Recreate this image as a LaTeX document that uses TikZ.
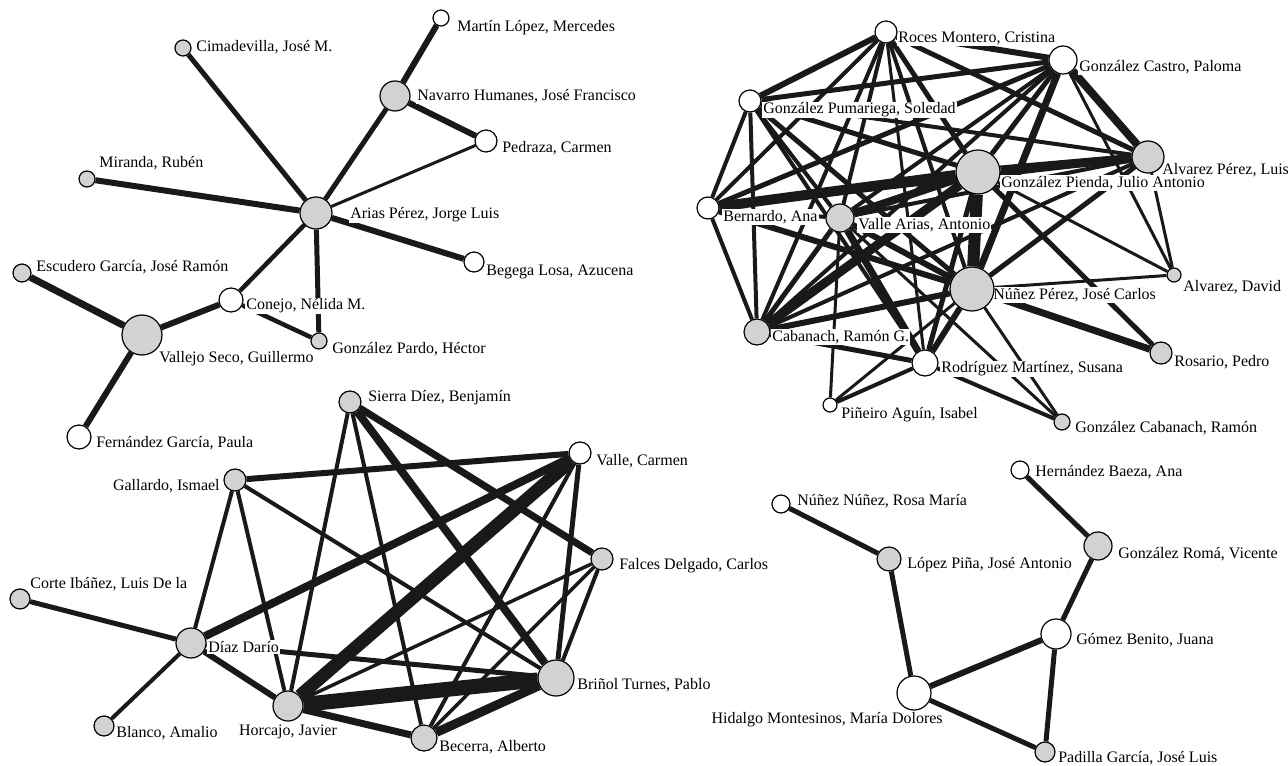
\documentclass[tikz,border=0pt]{standalone}
\usepackage{fontspec}
\setmainfont{Liberation Serif}
\pgfdeclarelayer{edges}
\pgfdeclarelayer{labels}
\pgfsetlayers{edges,labels,main}
\definecolor{nodegray}{RGB}{208,210,211}
\tikzset{
  pn/.style={circle,draw=black,line width=0.9pt,inner sep=0pt,minimum size=#1*1.5pt},
  gn/.style={pn=#1,fill=nodegray},
  wn/.style={pn=#1,fill=white},
  lab/.style={fill=white,inner sep=0.8pt,font=\fontsize{12}{13}\selectfont,anchor=west},
  e/.style={line width=#1*0.75pt,draw=black!90},
}
\begin{document}
\begin{tikzpicture}[x=0.75pt,y=-0.75pt]
\useasboundingbox (0,0) rectangle (1288,766);
% ---------- top-left cluster ----------
\node[wn=8]  (mar) at (441,18) {};
\node[gn=8]  (cim) at (183,48) {};
\node[gn=15] (nav) at (395,96) {};
\node[wn=11] (ped) at (486,141) {};
\node[gn=8]  (mir) at (87,179) {};
\node[gn=16] (ari) at (316,213) {};
\node[wn=10] (beg) at (474,262) {};
\node[gn=9]  (esc) at (22,273) {};
\node[wn=12] (con) at (231,300) {};
\node[gn=20] (vse) at (142,335) {};
\node[gn=8]  (gpa) at (319,341) {};
\node[wn=12] (fer) at (79,437) {};
% ---------- bottom-left cluster ----------
\node[gn=11] (sie) at (350,402) {};
\node[wn=11] (vca) at (580,453) {};
\node[gn=11] (gal) at (235,480) {};
\node[gn=11] (fal) at (602,559) {};
\node[gn=10] (cor) at (20,599) {};
\node[gn=15] (dia) at (191,643) {};
\node[gn=18] (bri) at (556,678) {};
\node[gn=15] (hor) at (288,706) {};
\node[gn=10] (bla) at (104,726) {};
\node[gn=13] (bec) at (424,738) {};
% ---------- top-right cluster ----------
\node[wn=11] (roc) at (886,32) {};
\node[wn=14] (gca) at (1063,60) {};
\node[wn=11] (gpu) at (750,101) {};
\node[gn=16] (alp) at (1148,157) {};
\node[gn=22] (gpi) at (978,172) {};
\node[wn=11] (ber) at (708,208) {};
\node[gn=14] (var) at (840,218) {};
\node[gn=7]  (ald) at (1174,275) {};
\node[gn=22] (nup) at (972,289) {};
\node[gn=13] (cab) at (757,332) {};
\node[wn=13] (rod) at (925,363) {};
\node[gn=11] (ros) at (1161,353) {};
\node[wn=7]  (pin) at (830,405) {};
\node[gn=8]  (gcr) at (1062,422) {};
% ---------- bottom-right cluster ----------
\node[wn=9]  (her) at (1020,470) {};
\node[wn=9]  (nnu) at (781,504) {};
\node[gn=14] (rom) at (1098,546) {};
\node[gn=12] (lop) at (889,559) {};
\node[wn=15] (gom) at (1056,634) {};
\node[wn=17] (hid) at (914,693) {};
\node[gn=10] (pad) at (1045,752) {};

\begin{pgfonlayer}{labels}
\node[lab] (lmar) at (456,28) {Martín López, Mercedes};
\node[lab] (lcim) at (195,47) {Cimadevilla, José M.};
\node[lab] (lnav) at (416,96) {Navarro Humanes, José Francisco};
\node[lab] (lped) at (501,148) {Pedraza, Carmen};
\node[lab] (lmir) at (98,163) {Miranda, Rubén};
\node[lab] (lari) at (349,215) {Arias Pérez, Jorge Luis};
\node[lab] (lbeg) at (485,272) {Begega Losa, Azucena};
\node[lab] (lesc) at (35,267) {Escudero García, José Ramón};
\node[lab] (lcon) at (245,306) {Conejo, Nélida M.};
\node[lab] (lvse) at (158,359) {Vallejo Seco, Guillermo};
\node[lab] (lgpa) at (331,349) {González Pardo, Héctor};
\node[lab] (lfer) at (95,443) {Fernández García, Paula};
\node[lab] (lsie) at (367,398) {Sierra Díez, Benjamín};
\node[lab] (lvca) at (595,461) {Valle, Carmen};
\node[lab,anchor=east] (lgal) at (221,486) {Gallardo, Ismael};
\node[lab] (lfal) at (618,566) {Falces Delgado, Carlos};
\node[lab] (lcor) at (29,584) {Corte Ibáñez, Luis De la};
\node[lab] (ldia) at (207,647) {Díaz Darío};
\node[lab] (lbri) at (576,685) {Briñol Turnes, Pablo};
\node[lab,anchor=center] (lhor) at (288,732) {Horcajo, Javier};
\node[lab] (lbla) at (115,733) {Blanco, Amalio};
\node[lab] (lbec) at (438,747) {Becerra, Alberto};
\node[lab] (lroc) at (897,38) {Roces Montero, Cristina};
\node[lab] (lgca) at (1078,67) {González Castro, Paloma};
\node[lab] (lgpu) at (762,110) {González Pumariega, Soledad};
\node[lab] (lalp) at (1161,170) {Alvarez Pérez, Luis};
\node[lab] (lgpi) at (1000,183) {González Pienda, Julio Antonio};
\node[lab] (lber) at (722,217) {Bernardo, Ana};
\node[lab] (lvar) at (857,225) {Valle Arias, Antonio};
\node[lab] (lald) at (1182,287) {Alvarez, David};
\node[lab] (lnup) at (992,295) {Núñez Pérez, José Carlos};
\node[lab] (lcab) at (771,337) {Cabanach, Ramón G.};
\node[lab] (lrod) at (940,369) {Rodríguez Martínez, Susana};
\node[lab] (lros) at (1173,362) {Rosario, Pedro};
\node[lab] (lpin) at (840,415) {Piñeiro Aguín, Isabel};
\node[lab] (lgcr) at (1074,428) {González Cabanach, Ramón};
\node[lab] (lher) at (1034,472) {Hernández Baeza, Ana};
\node[lab] (lnnu) at (796,501) {Núñez Núñez, Rosa María};
\node[lab] (lrom) at (1117,554) {González Romá, Vicente};
\node[lab] (llop) at (906,565) {López Piña, José Antonio};
\node[lab] (lgom) at (1075,640) {Gómez Benito, Juana};
\node[lab,anchor=east] (lhid) at (944,720) {Hidalgo Montesinos, María Dolores};
\node[lab] (lpad) at (1057,758) {Padilla García, José Luis};
\end{pgfonlayer}

\begin{pgfonlayer}{edges}
% top-left
\draw[e=6] (mar) -- (nav);
\draw[e=6] (nav) -- (ped);
\draw[e=5] (nav) -- (ari);
\draw[e=3] (ped) -- (ari);
\draw[e=5] (cim) -- (ari);
\draw[e=6] (mir) -- (ari);
\draw[e=6] (ari) -- (beg);
\draw[e=4.5] (ari) -- (con);
\draw[e=5] (ari) -- (gpa);
\draw[e=4.5] (con) -- (gpa);
\draw[e=6] (con) -- (vse);
\draw[e=7] (esc) -- (vse);
\draw[e=6] (vse) -- (fer);
% bottom-left
\draw[e=4] (sie) -- (hor);
\draw[e=4] (sie) -- (bec);
\draw[e=8] (sie) -- (bri);
\draw[e=7] (sie) -- (fal);
\draw[e=6] (vca) -- (gal);
\draw[e=8] (vca) -- (dia);
\draw[e=13] (vca) -- (hor);
\draw[e=4] (vca) -- (bec);
\draw[e=5] (vca) -- (bri);
\draw[e=4] (gal) -- (dia);
\draw[e=4] (gal) -- (hor);
\draw[e=4] (gal) -- (bri);
\draw[e=3.5] (fal) -- (hor);
\draw[e=3.5] (fal) -- (bec);
\draw[e=4] (fal) -- (bri);
\draw[e=5] (cor) -- (dia);
\draw[e=4] (dia) -- (bla);
\draw[e=6] (dia) -- (hor);
\draw[e=5] (dia) -- (bri);
\draw[e=15] (hor) -- (bri);
\draw[e=7] (hor) -- (bec);
\draw[e=9] (bec) -- (bri);
% top-right
\draw[e=6] (roc) -- (gpu);
\draw[e=6] (roc) -- (gca);
\draw[e=5] (roc) -- (alp);
\draw[e=5] (roc) -- (gpi);
\draw[e=4] (roc) -- (nup);
\draw[e=4] (roc) -- (var);
\draw[e=4] (roc) -- (ber);
\draw[e=4] (roc) -- (cab);
\draw[e=3] (roc) -- (rod);
\draw[e=5] (gpu) -- (gca);
\draw[e=4] (gpu) -- (ber);
\draw[e=4] (gpu) -- (cab);
\draw[e=5] (gpu) -- (gpi);
\draw[e=4] (gpu) -- (alp);
\draw[e=5] (gpu) -- (nup);
\draw[e=4] (gpu) -- (var);
\draw[e=4] (gpu) -- (rod);
\draw[e=8] (gca) -- (alp);
\draw[e=5] (gca) -- (gpi);
\draw[e=7] (gca) -- (nup);
\draw[e=5] (gca) -- (ber);
\draw[e=4] (gca) -- (var);
\draw[e=4] (gca) -- (cab);
\draw[e=3] (gca) -- (ald);
\draw[e=9] (alp) -- (gpi);
\draw[e=5] (alp) -- (ber);
\draw[e=5] (alp) -- (nup);
\draw[e=3] (alp) -- (ald);
\draw[e=4] (alp) -- (var);
\draw[e=4] (alp) -- (cab);
\draw[e=10] (gpi) -- (ber);
\draw[e=8] (gpi) -- (var);
\draw[e=12] (gpi) -- (nup);
\draw[e=9] (gpi) -- (cab);
\draw[e=5] (gpi) -- (rod);
\draw[e=5] (gpi) -- (ros);
\draw[e=3] (gpi) -- (ald);
\draw[e=6] (nup) -- (var);
\draw[e=6] (nup) -- (ber);
\draw[e=6] (nup) -- (cab);
\draw[e=6] (nup) -- (rod);
\draw[e=7] (nup) -- (ros);
\draw[e=3] (nup) -- (gcr);
\draw[e=3] (nup) -- (ald);
\draw[e=3] (nup) -- (pin);
\draw[e=4] (var) -- (ber);
\draw[e=5] (var) -- (cab);
\draw[e=7] (var) -- (rod);
\draw[e=3] (var) -- (pin);
\draw[e=3] (var) -- (gcr);
\draw[e=4] (ber) -- (cab);
\draw[e=5] (cab) -- (rod);
\draw[e=4] (rod) -- (pin);
\draw[e=4] (rod) -- (gcr);
% bottom-right
\draw[e=5] (nnu) -- (lop);
\draw[e=5] (lop) -- (hid);
\draw[e=6] (hid) -- (gom);
\draw[e=5] (hid) -- (pad);
\draw[e=5] (gom) -- (pad);
\draw[e=5] (gom) -- (rom);
\draw[e=5] (rom) -- (her);
\end{pgfonlayer}
\end{tikzpicture}
\end{document}
